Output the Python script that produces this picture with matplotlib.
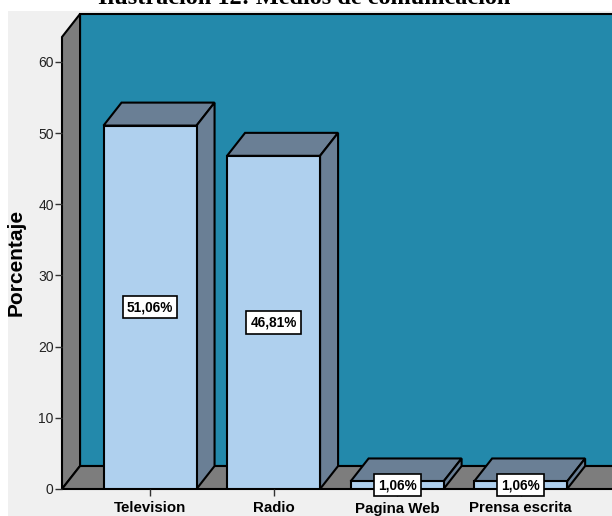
import matplotlib
matplotlib.use("Agg")
import matplotlib.pyplot as plt
from matplotlib.patches import Polygon, Rectangle

categorias = ["Television", "Radio", "Pagina Web", "Prensa escrita"]
porcentajes = [51.06, 46.81, 1.06, 1.06]
yticks = [0, 10, 20, 30, 40, 50, 60]
titulo = "Ilustración 12: Medios de comunicación"

# colores estilo SPSS
c_fondo = "#f0f0f0"
c_pared = "#2389ab"
c_gris = "#7d7d7d"
c_frente = "#afd0ee"
c_tapa = "#6a7f95"

W, H = 612, 516
fig = plt.figure(figsize=(W / 100, H / 100), dpi=100, facecolor="white")
fig.patches.append(Rectangle((8 / W, 0), 1, (H - 11) / H, transform=fig.transFigure,
                             facecolor=c_fondo, edgecolor="none", zorder=-5))

ax = fig.add_axes([62 / W, (H - 489) / H, (W - 62) / W, (489 - 14) / H])
ax.set_facecolor("none")

x0, x1 = -0.7125, 3.74
ytop = 66.74
dx, dy = 0.146, 3.23   # profundidad 3d
ymax_front = ytop - dy
ancho = 0.753

ax.set_xlim(x0, x1)
ax.set_ylim(0, ytop)

# pared del fondo, pared lateral y piso
ax.add_patch(Polygon([(x0 + dx, dy), (x1 + 1, dy), (x1 + 1, ytop), (x0 + dx, ytop)],
                     closed=True, facecolor=c_pared, edgecolor="black", lw=1.5,
                     clip_on=False, zorder=1))
ax.add_patch(Polygon([(x0, 0), (x0, ymax_front), (x0 + dx, ytop), (x0 + dx, dy)],
                     closed=True, facecolor=c_gris, edgecolor="black", lw=1.5,
                     clip_on=False, zorder=1))
ax.add_patch(Polygon([(x0, 0), (x1 + 1, 0), (x1 + 1 + dx, dy), (x0 + dx, dy)],
                     closed=True, facecolor=c_gris, edgecolor="black", lw=1.5,
                     clip_on=False, zorder=1))

for i, v in enumerate(porcentajes):
    a, b = i - ancho / 2, i + ancho / 2
    ax.bar(i, v, width=ancho, color=c_frente, edgecolor="black", lw=1.5, zorder=3)
    ax.add_patch(Polygon([(a, v), (b, v), (b + dx, v + dy), (a + dx, v + dy)],
                         closed=True, facecolor=c_tapa, edgecolor="black", lw=1.5, zorder=2))
    ax.add_patch(Polygon([(b, 0), (b + dx, dy), (b + dx, v + dy), (b, v)],
                         closed=True, facecolor=c_tapa, edgecolor="black", lw=1.5, zorder=2))
    ax.text(i, v / 2, f"{v:.2f}%".replace(".", ","), ha="center", va="center",
            fontsize=9.8, fontweight="bold", family="Liberation Sans", zorder=4,
            bbox=dict(boxstyle="square,pad=0.3", facecolor="white", edgecolor="black", lw=1.2))

for s in ax.spines.values():
    s.set_visible(False)

ax.set_yticks(yticks)
ax.set_yticklabels([str(t) for t in yticks], family="Liberation Sans", fontsize=10, color="#222222")
ax.set_xticks(range(len(categorias)))
ax.set_xticklabels(categorias, family="Liberation Sans", fontsize=10.8, fontweight="bold")
ax.tick_params(axis="y", length=5, width=1, color="#333333", pad=1)
ax.tick_params(axis="x", length=5, width=1, color="#333333", pad=4)

ax.set_ylabel("Porcentaje", family="Liberation Sans", fontsize=15, fontweight="bold")
ax.yaxis.set_label_coords(-0.066, 0.478)

fig.text(304 / W, 1 + 1 / H, titulo, ha="center", va="center", family="Liberation Serif",
         fontsize=17.5, fontweight="bold")

fig.savefig("out.png", dpi=100, facecolor="white")
